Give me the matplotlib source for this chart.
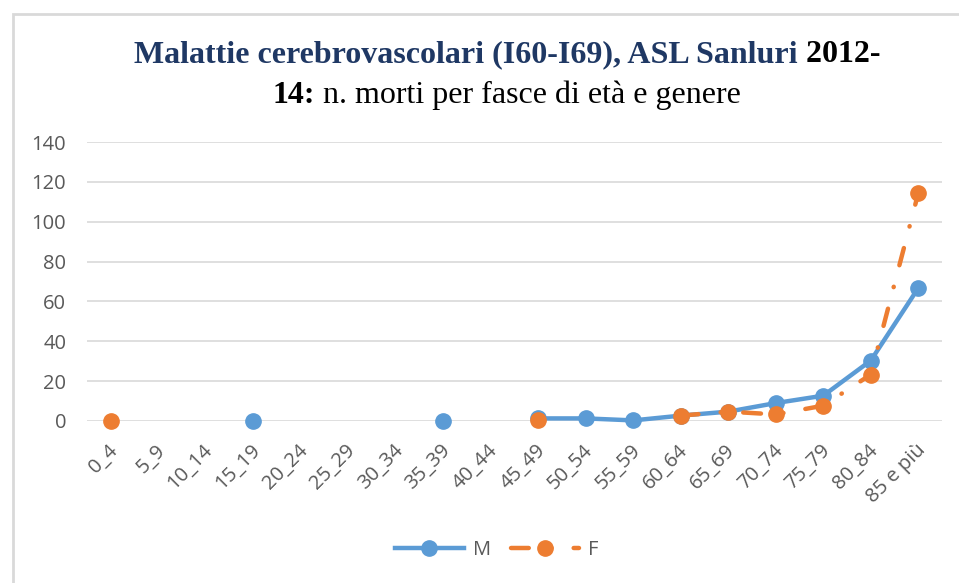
import numpy as np
import matplotlib.pyplot as plt
from matplotlib.patches import Rectangle
from matplotlib.transforms import ScaledTranslation

nan = np.nan

age_groups = ['0_4', '5_9', '10_14', '15_19', '20_24', '25_29', '30_34',
              '35_39', '40_44', '45_49', '50_54', '55_59', '60_64', '65_69',
              '70_74', '75_79', '80_84', '85 e più']
deaths_m = [nan, nan, nan, 0, nan, nan, nan, 0, nan,
            1.3, 1.3, 0.3, 2.7, 4.7, 9.0, 12.7, 30.3, 66.7]
deaths_f = [0, nan, nan, nan, nan, nan, nan, nan, nan,
            0.7, nan, nan, 2.7, 4.7, 3.3, 7.7, 23.3, 114.3]

title_l1 = [('Malattie cerebrovascolari (I60-I69), ASL Sanluri', '#1f3864', 'bold'),
            (' 2012-', 'black', 'bold')]
title_l2 = [('14:', 'black', 'bold'),
            (' n. morti per fasce di età e genere', 'black', 'normal')]

blue = '#5b9bd5'
orange = '#ed7d31'
grey = '#595959'
tick_font = 'Open Sans'

W, H = 959, 583
fig = plt.figure(figsize=(W / 100, H / 100), dpi=100)
ax = fig.add_axes([87 / W, 1 - 421 / H, (942 - 87) / W, (421 - 142) / H])

x = np.arange(len(age_groups))
ax.plot(x, deaths_m, color=blue, lw=3.2, marker='o', markersize=11,
        clip_on=False, zorder=3, label='M')
ax.plot(x, deaths_f, color=orange, lw=3.2, marker='o', markersize=11,
        linestyle=(0, (4, 5, 0.1, 5)), dash_capstyle='round',
        clip_on=False, zorder=4, label='F')

ax.set_xlim(-0.5, len(age_groups) - 0.5)
ax.set_ylim(0, 140)
ax.set_yticks(np.arange(0, 141, 20))
ax.set_xticks(x)
ax.set_xticklabels(age_groups, rotation=45, ha='right', va='center',
                   rotation_mode='anchor')
ax.grid(axis='y', color='#d9d9d9', lw=1.2)
ax.set_axisbelow(True)
for s in ax.spines.values():
    s.set_visible(False)
ax.tick_params(axis='both', length=0, labelsize=14.5, colors=grey)
ax.tick_params(axis='y', pad=15)
ax.tick_params(axis='x', pad=19)
for lbl in ax.get_xticklabels() + ax.get_yticklabels():
    lbl.set_fontfamily(tick_font)
for lbl in ax.get_xticklabels():
    lbl.set_transform(lbl.get_transform()
                      + ScaledTranslation(4 / 100, 0, fig.dpi_scale_trans))

leg = ax.legend(loc='center', bbox_to_anchor=(497 / W, 1 - 550 / H),
                bbox_transform=fig.transFigure, ncol=2, frameon=False,
                handlelength=3.4, handletextpad=0.45, columnspacing=1.0,
                prop={'family': tick_font, 'size': 14.5})
for t in leg.get_texts():
    t.set_color(grey)

# chart border
fig.patches.append(Rectangle((12.5 / W, -0.05), 1.1, 1 - 14 / H + 0.05,
                             transform=fig.transFigure, fill=False,
                             edgecolor='#d9d9d9', lw=2))

# two-colour title, pieces placed side by side and centred
fig.canvas.draw()
renderer = fig.canvas.get_renderer()
for parts, base_y in [(title_l1, 62), (title_l2, 103)]:
    texts = []
    for s, c, w in parts:
        t = fig.text(0, 1 - base_y / H, s, color=c, fontweight=w,
                     family='Liberation Serif', fontsize=23,
                     va='baseline', ha='left')
        texts.append(t)
    widths = [t.get_window_extent(renderer).width for t in texts]
    start = 507 - sum(widths) / 2
    for t, wdt in zip(texts, widths):
        t.set_x(start / W)
        start += wdt

fig.savefig('out.png', dpi=100)
